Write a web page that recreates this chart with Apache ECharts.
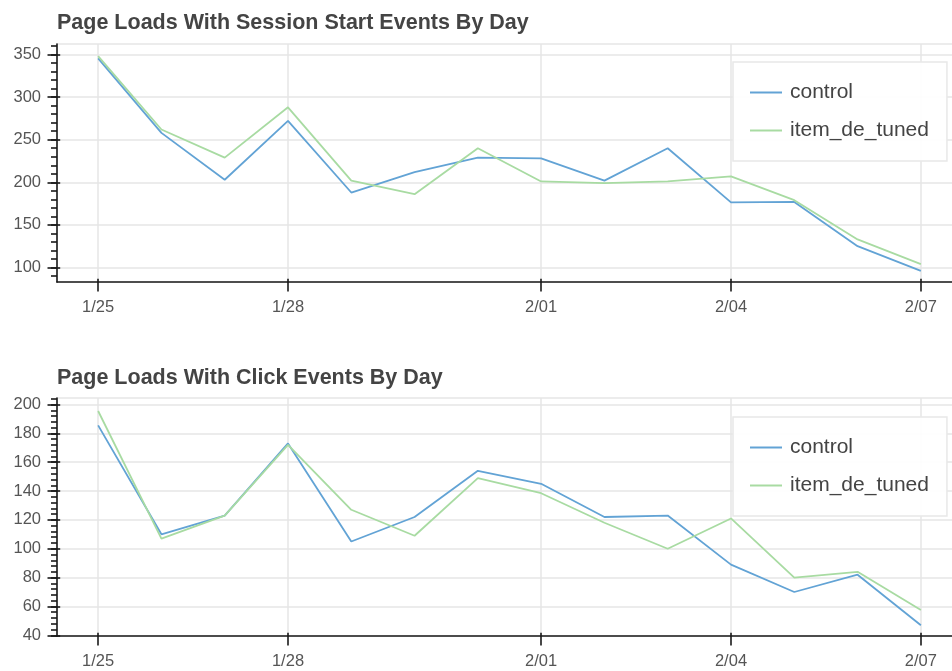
<!DOCTYPE html>
<html>
<head>
<meta charset="utf-8">
<script src="https://cdn.jsdelivr.net/npm/echarts@6/dist/echarts.min.js"></script>
<style>
html,body{margin:0;padding:0;overflow:hidden;background:#ffffff}
#c{width:980px;height:671px}
</style>
</head>
<body>
<div id="c"></div>
<script>
// ---- data ----
const dates = ['2017-01-25','2017-01-26','2017-01-27','2017-01-28','2017-01-29','2017-01-30','2017-01-31',
               '2017-02-01','2017-02-02','2017-02-03','2017-02-04','2017-02-05','2017-02-06','2017-02-07'];
const seriesNames = ['control', 'item_de_tuned'];
const sessionControl = [345.5, 258, 203, 272, 188, 212, 229, 228, 202, 240, 176.5, 177, 125, 96];
const sessionTuned   = [348, 262, 229, 288, 202, 186, 240, 201, 199, 201, 207, 179, 133, 104];
const clickControl   = [185.5, 110, 123, 173, 105, 122, 154, 145, 122, 123, 89, 70, 82, 47];
const clickTuned     = [195.5, 107, 123, 172, 127, 109, 149, 138.5, 118, 100, 121, 80, 84, 57.5];
const xTickDates  = ['2017-01-25','2017-01-28','2017-02-01','2017-02-04','2017-02-07'];
const xTickLabels = ['1/25','1/28','2/01','2/04','2/07'];
const sessionYTicks = [100, 150, 200, 250, 300, 350];
const clickYTicks   = [40, 60, 80, 100, 120, 140, 160, 180, 200];
const titles = ['Page Loads With Session Start Events By Day', 'Page Loads With Click Events By Day'];

// ---- helpers ----
const DAY = 86400000;
function toTs(s){ const p = s.split('-').map(Number); return Date.UTC(p[0], p[1]-1, p[2]); }
const t0 = toTs(dates[0]);
function dayNum(s){ return Math.round((toTs(s) - t0) / DAY); }
const xTickPos = xTickDates.map(dayNum);
const xMin = dayNum(dates[0]) - 0.65;
const xMax = dayNum(dates[dates.length-1]) + 0.65;
function pairs(vals){ return dates.map((d,i)=>[dayNum(d), vals[i]]); }
function minorTicks(lo, hi, step){ const a=[]; for(let v=lo; v<=hi+1e-9; v+=step) a.push(+v.toFixed(4)); return a; }

const FONT = '"Liberation Sans", Arial, Helvetica, sans-serif';
const AX = '#1a1a1a';
const GRIDC = '#e6e6e6';
const COLORS = ['#62a3d5', '#a8dba2'];

const grids = [
  {left:57, top:44, width:905, height:238},
  {left:57, top:398, width:905, height:238}
];
const yRanges = [[83, 362.3], [39.5, 204.5]];
const yTicks = [sessionYTicks, clickYTicks];
const yMinor = [minorTicks(90, 360, 10), minorTicks(40, 204, 4)];
const legendTops = [62, 417];
const titleTops = [12, 367];

const xAxes = [], yAxes = [], series = [], legends = [], titleOpts = [];
grids.forEach((g, gi) => {
  xAxes.push({
    type:'value', gridIndex:gi, min:xMin, max:xMax, position:'bottom',
    axisLine:{show:true, onZero:false, lineStyle:{color:AX, width:1.6}},
    axisTick:{show:true, customValues:xTickPos, length:9.5, lineStyle:{color:AX, width:1.6}},
    axisLabel:{show:true, customValues:xTickPos, margin:17, fontSize:16.5, color:'#555', fontFamily:FONT,
      formatter:(v)=>{ const i = xTickPos.indexOf(Math.round(v)); return i>=0 ? xTickLabels[i] : ''; }},
    splitLine:{show:true, lineStyle:{color:GRIDC, width:1.5}}
  });
  xAxes.push({
    type:'value', gridIndex:gi, min:xMin, max:xMax, position:'bottom',
    axisLine:{show:false, onZero:false},
    axisTick:{show:true, inside:true, customValues:xTickPos, length:3.2, lineStyle:{color:AX, width:1.6}},
    axisLabel:{show:false}, splitLine:{show:false}
  });
  yAxes.push({
    type:'value', gridIndex:gi, min:yRanges[gi][0], max:yRanges[gi][1], position:'left',
    axisLine:{show:true, onZero:false, lineStyle:{color:AX, width:1.6}},
    axisTick:{show:true, customValues:yTicks[gi], length:9.5, lineStyle:{color:AX, width:1.6}},
    axisLabel:{show:true, customValues:yTicks[gi], margin:16, fontSize:16.5, color:'#555', fontFamily:FONT},
    splitLine:{show:true, lineStyle:{color:GRIDC, width:1.5}}
  });
  yAxes.push({
    type:'value', gridIndex:gi, min:yRanges[gi][0], max:yRanges[gi][1], position:'left',
    axisLine:{show:false, onZero:false},
    axisTick:{show:true, customValues:yMinor[gi], length:6, lineStyle:{color:AX, width:1.6}},
    axisLabel:{show:false}, splitLine:{show:false}
  });
  yAxes.push({
    type:'value', gridIndex:gi, min:yRanges[gi][0], max:yRanges[gi][1], position:'left',
    axisLine:{show:false, onZero:false},
    axisTick:{show:true, inside:true, customValues:yTicks[gi], length:3.2, lineStyle:{color:AX, width:1.6}},
    axisLabel:{show:false}, splitLine:{show:false}
  });
  const vals = gi === 0 ? [sessionControl, sessionTuned] : [clickControl, clickTuned];
  vals.forEach((v, si) => {
    series.push({
      type:'line', name:seriesNames[si], xAxisIndex:gi*2, yAxisIndex:gi*3,
      data:pairs(v), symbol:'none', showSymbol:false,
      lineStyle:{color:COLORS[si], width:1.8}, itemStyle:{color:COLORS[si]},
      z:3+si
    });
  });
  legends.push({
    orient:'vertical', left:733, top:legendTops[gi],
    padding:[20, 18, 20, 17], itemWidth:32, itemHeight:21, itemGap:17,
    icon:'path://M0,0 L32,0 L32,2 L0,2 Z', symbolKeepAspect:true,
    borderColor:'#e8e8e8', borderWidth:1.5, backgroundColor:'rgba(255,255,255,0.92)',
    textStyle:{fontSize:21, color:'#444', fontFamily:FONT, padding:[0,0,0,3]},
    data:seriesNames, selectedMode:false
  });
  titleOpts.push({
    text:titles[gi], left:57, top:titleTops[gi], padding:0,
    textStyle:{fontSize:21.5, fontWeight:'bold', color:'#444', fontFamily:FONT}
  });
});

const chart = echarts.init(document.getElementById('c'), null, {renderer:'canvas'});
chart.setOption({
  animation:false,
  backgroundColor:'#ffffff',
  title:titleOpts,
  legend:legends,
  grid:grids.map(g => Object.assign({show:true, borderColor:GRIDC, borderWidth:1.5, backgroundColor:'transparent'}, g)),
  xAxis:xAxes,
  yAxis:yAxes,
  series:series
});
</script>
</body>
</html>
